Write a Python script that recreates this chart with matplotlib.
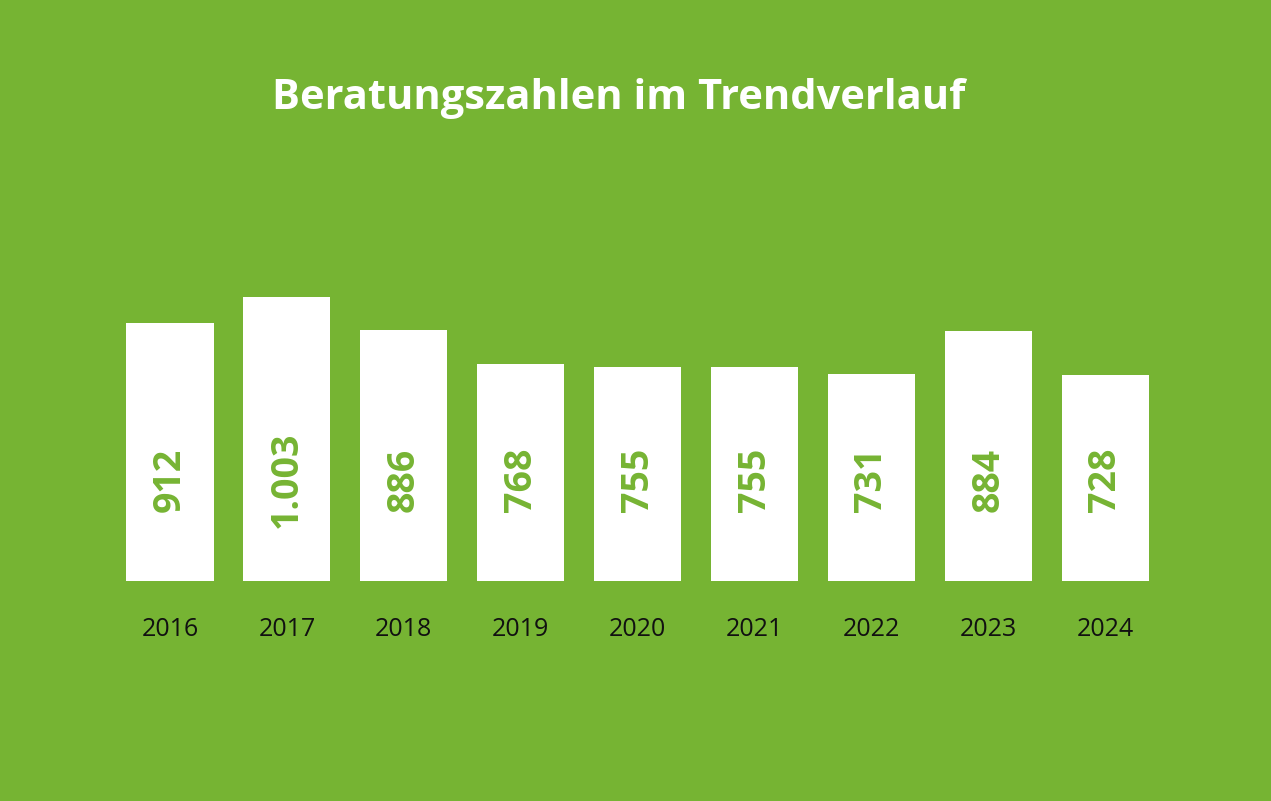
import matplotlib
matplotlib.use("Agg")
import matplotlib.pyplot as plt

years = ["2016", "2017", "2018", "2019", "2020", "2021", "2022", "2023", "2024"]
values = [912, 1003, 886, 768, 755, 755, 731, 884, 728]
labels = ["912", "1.003", "886", "768", "755", "755", "731", "884", "728"]

green = "#76B433"
fig = plt.figure(figsize=(12.71, 8.01), dpi=100, facecolor=green)
ax = fig.add_axes([0, 0, 1, 1])
ax.set_facecolor(green)
ax.set_xlim(-170 / 116.9, (1271 - 170) / 116.9)
ax.set_ylim(-220 / 0.283, (801 - 220) / 0.283)
ax.axis("off")

x = list(range(len(years)))
ax.bar(x, values, width=0.745, color="white")
for i, (y, lab) in enumerate(zip(years, labels)):
    ax.text(i, 357, lab, rotation=90, ha="center", va="center", color=green,
            fontsize=27, fontweight="bold", family="Open Sans")
    ax.text(i, -170, y, ha="center", va="center", color="#111111",
            fontsize=18, family="Open Sans")

fig.text(0.487, 0.877, "Beratungszahlen im Trendverlauf", ha="center", va="center",
         color="white", fontsize=30, fontweight="bold", family="Open Sans")
fig.savefig("out.png", dpi=100, facecolor=green)
